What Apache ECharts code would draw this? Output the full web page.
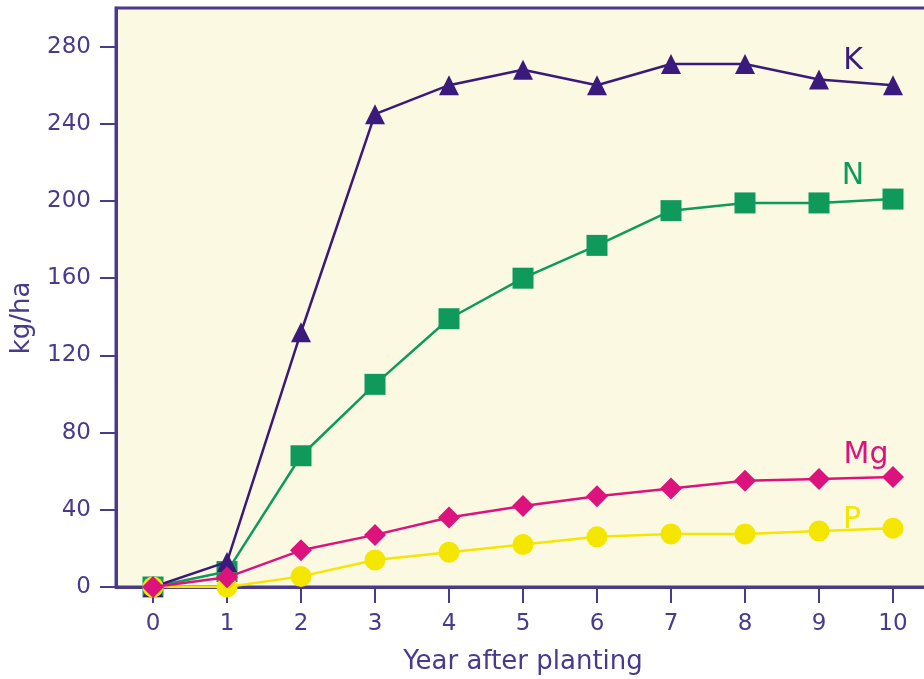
<!DOCTYPE html>
<html>
<head>
<meta charset="utf-8">
<script src="https://cdn.jsdelivr.net/npm/echarts@6/dist/echarts.min.js"></script>
<style>
html,body{margin:0;padding:0;background:#ffffff;}
#chart{width:924px;height:679px;}
</style>
</head>
<body>
<div id="chart"></div>
<script>
var years = [0, 1, 2, 3, 4, 5, 6, 7, 8, 9, 10];
var yTicks = [0, 40, 80, 120, 160, 200, 240, 280];
var seriesNames = ['K', 'N', 'Mg', 'P'];
var kValues  = [0, 13, 132, 245, 260, 268, 260, 271, 271, 263, 260];
var nValues  = [0, 8, 68, 105, 139, 160, 177, 195, 199, 199, 201];
var mgValues = [0, 5, 19, 27, 36, 42, 47, 51, 55, 56, 57];
var pValues  = [0, 0, 5.5, 14, 18, 22, 26, 27.5, 27.5, 29, 30.5];

var axisColor = '#4a3a8c';
var font = 'DejaVu Sans, Verdana, sans-serif';

function makeSeries(name, values, color, symbol, size, labelOffset, z) {
  var data = values.map(function (v, i) {
    var item = { value: [years[i], v] };
    if (i === values.length - 1) {
      item.label = {
        show: true, formatter: name, position: 'inside', offset: labelOffset,
        color: color, fontSize: 30, fontFamily: font
      };
    }
    return item;
  });
  return {
    name: name, type: 'line', data: data, z: z,
    symbol: symbol, symbolSize: size,
    lineStyle: { color: color, width: 2.5 },
    itemStyle: { color: color },
    label: { show: false },
    emphasis: { disabled: true },
    animation: false
  };
}

var chart = echarts.init(document.getElementById('chart'));
chart.setOption({
  animation: false,
  grid: {
    left: 116, top: 8, right: -6, bottom: 92,
    outerBoundsMode: 'none', containLabel: false,
    show: true, backgroundColor: '#fcf9e3', borderColor: axisColor, borderWidth: 3
  },
  xAxis: {
    type: 'value', min: -0.5, max: 10.5,
    name: 'Year after planting', nameLocation: 'middle', nameGap: 62,
    nameTextStyle: { color: axisColor, fontSize: 26, fontFamily: font },
    splitLine: { show: false },
    axisLine: { show: true, onZero: false, lineStyle: { color: axisColor, width: 3 } },
    axisTick: { show: true, length: 16, customValues: years, lineStyle: { color: axisColor, width: 2 } },
    axisLabel: { customValues: years, margin: 26, color: axisColor, fontSize: 23, fontFamily: font }
  },
  yAxis: {
    type: 'value', min: 0, max: 300,
    splitLine: { show: false },
    axisLine: { show: true, onZero: false, lineStyle: { color: axisColor, width: 3 } },
    axisTick: { show: true, length: 16, customValues: yTicks, lineStyle: { color: axisColor, width: 2 } },
    axisLabel: { customValues: yTicks, margin: 25, color: axisColor, fontSize: 23, fontFamily: font }
  },
  graphic: [{
    type: 'text', x: 22, y: 318, rotation: Math.PI / 2,
    style: { text: 'kg/ha', fill: axisColor, fontSize: 26, fontFamily: font, align: 'center', verticalAlign: 'middle' }
  }],
  series: [
    makeSeries('N', nValues, '#0f9a5c', 'rect', 21, [-40, -23], 2),
    makeSeries('K', kValues, '#3a1a7c', 'triangle', 20, [-40, -24], 3),
    makeSeries('P', pValues, '#f5e600', 'circle', 21, [-41, -8], 4),
    makeSeries('Mg', mgValues, '#dc137c', 'diamond', 22, [-27, -22], 5)
  ]
});
</script>
</body>
</html>
